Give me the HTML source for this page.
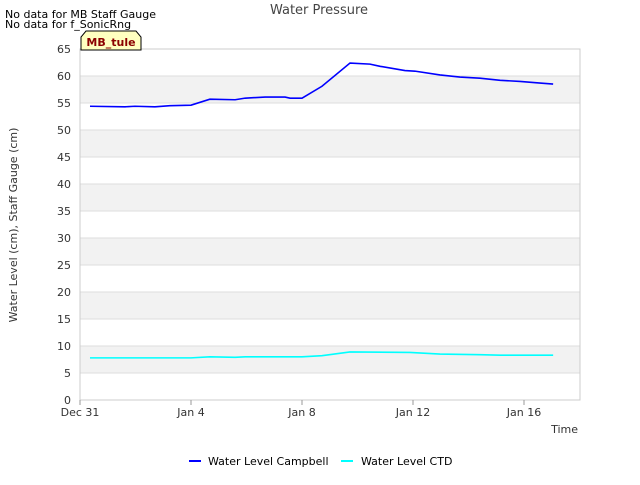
<!DOCTYPE html>
<html><head><meta charset="utf-8"><style>
body{margin:0;background:#fff;font-family:"Liberation Sans","DejaVu Sans",sans-serif}
svg text{font-family:"DejaVu Sans","Liberation Sans",sans-serif}
</style></head><body>
<svg width="640" height="480" id="c" xmlns="http://www.w3.org/2000/svg">
<text x="5" y="18" font-size="11">No data for MB Staff Gauge</text>
<text x="5" y="28" font-size="11">No data for f_SonicRng</text>
<text x="319" y="14" font-size="13" fill="#444" text-anchor="middle">Water Pressure</text>
<g id="grid"></g><g id="series"></g>
<g><path d="M81,50 L81,37 L86,31 L136,31 L141,37 L141,50 Z" fill="#ffffc0" stroke="#000" stroke-width="1"/><text x="111" y="46" font-size="11" font-weight="bold" fill="#8b0000" text-anchor="middle">MB_tule</text></g>
<text transform="translate(17,225) rotate(-90)" font-size="11" fill="#333" text-anchor="middle">Water Level (cm), Staff Gauge (cm)</text>
<text x="578" y="433" font-size="11" fill="#333" text-anchor="end">Time</text>
<g><line x1="189" y1="461" x2="201" y2="461" stroke="#0000ff" stroke-width="2"/><text x="208" y="465" font-size="11">Water Level Campbell</text></g>
<g><line x1="341" y1="461" x2="353" y2="461" stroke="#00ffff" stroke-width="2"/><text x="361" y="465" font-size="11">Water Level CTD</text></g>
</svg>
<script>
const yTicks=[0,5,10,15,20,25,30,35,40,45,50,55,60,65];
const xTickDays=[0,4,8,12,16];
const xTickLabels=["Dec 31","Jan 4","Jan 8","Jan 12","Jan 16"];
const campDays=[0.36,1.62,1.98,2.70,3.24,4.0,4.68,5.59,5.95,6.67,7.39,7.57,8.0,8.72,9.73,10.45,10.81,11.71,12.07,12.97,13.69,14.41,15.14,15.86,16.58,17.05];
const campVals=[54.4,54.3,54.4,54.3,54.5,54.6,55.7,55.6,55.9,56.1,56.1,55.9,55.9,58.1,62.4,62.2,61.8,61.0,60.9,60.2,59.8,59.6,59.2,59.0,58.7,58.5];
const ctdDays=[0.36,4.0,4.68,5.59,5.95,8.0,8.72,9.73,11.89,12.97,14.41,15.14,17.05];
const ctdVals=[7.8,7.8,8.0,7.9,8.0,8.0,8.2,8.9,8.8,8.5,8.4,8.3,8.3];
const L=80,R=580,T=49,B=400,NS="http://www.w3.org/2000/svg";
const xs=d=>L+d*27.75, ys=v=>B-(v/65)*(B-T);
const g=document.getElementById('grid'),s=document.getElementById('series');
function mk(tag,a,p){const e=document.createElementNS(NS,tag);for(const k in a)e.setAttribute(k,a[k]);p.appendChild(e);return e;}
for(let i=0;i<yTicks.length-1;i++){if(i%2==1){const r=mk('rect',{x:L,y:ys(yTicks[i+1]),width:R-L,height:ys(yTicks[i])-ys(yTicks[i+1]),fill:'#f2f2f2'},g);

}}
yTicks.forEach(v=>{const l=mk('line',{x1:L,x2:R,y1:ys(v),y2:ys(v),stroke:'#ddd'},g);


const t=mk('text',{x:L-9,y:ys(v)+4,'font-size':11,fill:'#333','text-anchor':'end'},g);t.textContent=v;

});
mk('rect',{x:L,y:T,width:R-L,height:B-T,fill:'none',stroke:'#ccc'},g);
xTickDays.forEach((d,i)=>{mk('line',{x1:xs(d),x2:xs(d),y1:B,y2:B+5,stroke:'#999'},g);
const t=mk('text',{x:xs(d),y:B+16,'font-size':11,fill:'#333','text-anchor':'middle'},g);t.textContent=xTickLabels[i];

});
function line(days,vals,c,n){const p=mk('polyline',{points:days.map((d,i)=>xs(d)+','+ys(vals[i])).join(' '),fill:'none',stroke:c,'stroke-width':1.6},s);

}
line(ctdDays,ctdVals,'#00ffff','series-ctd');
line(campDays,campVals,'#0000ff','series-campbell');
</script>
</body></html>
